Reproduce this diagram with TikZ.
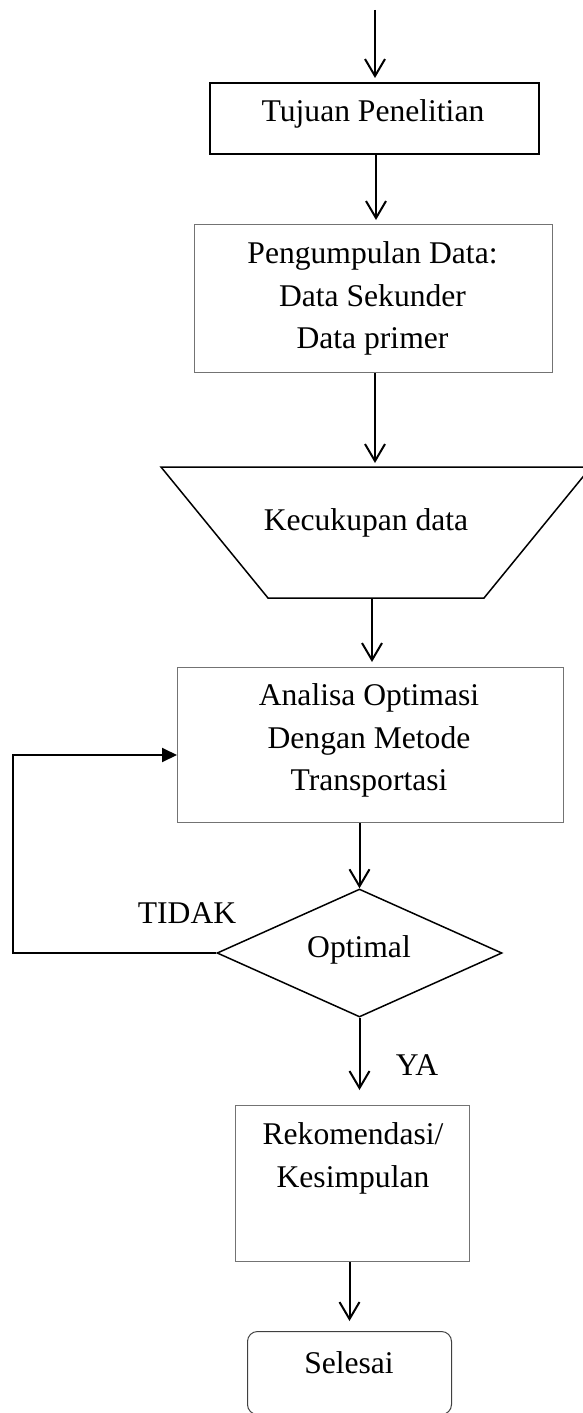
\documentclass[tikz,border=0pt]{standalone}
\usepackage{fontspec}
\setmainfont{Liberation Serif}
\usetikzlibrary{arrows.meta,shapes.geometric}
\begin{document}
\begin{tikzpicture}[x=0.5pt,y=-0.5pt,
  txt/.style={font=\fontsize{15.8}{19}\selectfont, inner sep=0pt, anchor=base},
  thinbox/.style={draw=black!55, line width=0.5pt, inner sep=0pt, anchor=north west},
  thickbox/.style={draw=black, line width=1pt, inner sep=0pt, anchor=north west},
  arr/.style={line width=1pt, -{Straight Barb[length=8.5pt,width=10pt]}},
  fb/.style={line width=1pt, -{Triangle[length=7.5pt,width=7pt]}},
]
\useasboundingbox (0,0) rectangle (583,1413);

% boxes
\node[thickbox, minimum width=164.5pt, minimum height=35.5pt] (b1) at (209,82) {};
\node[thinbox, minimum width=179pt, minimum height=74pt] (b2) at (194,224) {};
\node[thinbox, minimum width=193pt, minimum height=77.5pt] (b3) at (177,667) {};
\node[thinbox, minimum width=117pt, minimum height=78pt] (b4) at (235,1105) {};
\node[draw=black!75, line width=0.5pt, inner sep=0pt, anchor=north west, rounded corners=5pt,
      minimum width=102pt, minimum height=41.5pt] (sel) at (247,1331) {};
\node[diamond, draw=black, line width=0.75pt, inner sep=0pt,
      minimum width=142.5pt, minimum height=64pt] (dia) at (359.5,953) {};

% trapezoid
\coordinate (tTL) at (161,467);
\coordinate (tTR) at (591,467);
\coordinate (tBR) at (484,598);
\coordinate (tBL) at (268,598);
\draw[line width=0.75pt] (tTL) -- (tTR) -- (tBR) -- (tBL) -- cycle;
\coordinate (trapIn) at (375,467);
\coordinate (trapOut) at (372,598);

% texts
\node[txt] (t1) at (373,122) {Tujuan Penelitian};
\node[txt] (t2a) at (372.5,263) {Pengumpulan Data:};
\node[txt] (t2b) at (372.5,306) {Data Sekunder};
\node[txt] (t2c) at (372.5,348) {Data primer};
\node[txt] (t3) at (366,530) {Kecukupan data};
\node[txt] (t4a) at (369,705) {Analisa Optimasi};
\node[txt] (t4b) at (369,748) {Dengan Metode};
\node[txt] (t4c) at (369,790) {Transportasi};
\node[txt] (t5) at (359,957) {Optimal};
\node[txt] (tidak) at (187,923) {TIDAK};
\node[txt] (ya) at (417,1075) {YA};
\node[txt] (t6a) at (353,1144) {Rekomendasi/};
\node[txt] (t6b) at (353,1187) {Kesimpulan};
\node[txt] (t7) at (349,1373) {Selesai};

% connectors
\coordinate (start) at (375,10);
\draw[arr, shorten >=2pt] (start) -- (start |- b1.north);
\draw[arr, shorten >=2pt] ([xshift=0.75pt]b1.south) -- ([xshift=0.75pt]b1.south |- b2.north);
\draw[arr, shorten >=2pt] (b2.south -| trapIn) -- (trapIn);
\draw[arr, shorten >=2.5pt] (trapOut) -- (trapOut |- b3.north);
\draw[arr] (b3.south -| dia.north) -- (dia.north);
\draw[arr, shorten >=7.5pt] (dia.south) -- (dia.south |- b4.north);
\draw[arr, shorten >=5pt] (b4.south -| sel.north) -- (sel.north);

\coordinate (fbL) at (13,953);
\coordinate (fbT) at (13,755);
\draw[fb] (dia.west) -- (fbL) -- (fbT) -- (fbT -| b3.west);
\end{tikzpicture}
\end{document}
